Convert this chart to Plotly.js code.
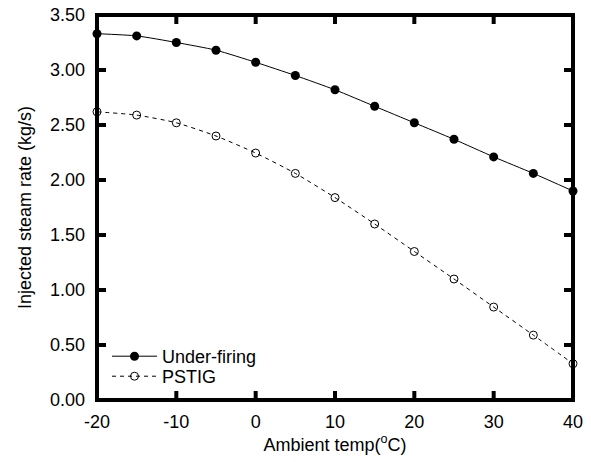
<!DOCTYPE html>
<html>
<head>
<meta charset="utf-8">
<script src="https://cdn.plot.ly/plotly-3.0.1.min.js"></script>
<style>body{margin:0;padding:0;background:#fff;}#chart{width:591px;height:462px;}</style>
</head>
<body>
<div id="chart"></div>
<script>
const ambientTemp = [-20, -15, -10, -5, 0, 5, 10, 15, 20, 25, 30, 35, 40];
const underFiring = [3.33, 3.31, 3.25, 3.18, 3.07, 2.95, 2.82, 2.67, 2.52, 2.37, 2.21, 2.06, 1.90];
const pstig = [2.62, 2.59, 2.52, 2.40, 2.245, 2.06, 1.84, 1.60, 1.35, 1.10, 0.845, 0.59, 0.33];
const seriesNames = ['Under-firing', 'PSTIG'];
const xTicks = [-20, -10, 0, 10, 20, 30, 40];
const yTicks = [0, 0.5, 1, 1.5, 2, 2.5, 3, 3.5];

const font = 'Arial, "Liberation Sans", sans-serif';
const ink = 'rgb(0,0,0)';
const W = 591, H = 462;
const M = {l: 97, r: 18, t: 15, b: 62};
const plotW = W - M.l - M.r, plotH = H - M.t - M.b;
const tickPx = 9;

const traces = [
  {x: ambientTemp, y: underFiring, name: seriesNames[0], type: 'scatter', mode: 'lines+markers',
   legend: 'legend',
   line: {color: ink, width: 1, shape: 'spline', smoothing: 0.6},
   marker: {symbol: 'circle', size: 9, color: ink}, cliponaxis: false},
  {x: ambientTemp, y: pstig, name: seriesNames[1], type: 'scatter', mode: 'lines+markers',
   legend: 'legend2',
   line: {color: ink, width: 1, dash: '4px,4px', shape: 'spline', smoothing: 0.6},
   marker: {symbol: 'circle-open', size: 8, color: ink, line: {width: 1, color: ink}}, cliponaxis: false}
];

// frame and inside ticks (axis decoration), built from the tick arrays
const shapes = [{type: 'rect', xref: 'paper', yref: 'paper', x0: 0, x1: 1, y0: 0, y1: 1,
                 line: {color: ink, width: 4}, layer: 'above'}];
const tx = tickPx / plotH, ty = tickPx / plotW;
xTicks.forEach(v => {
  shapes.push({type: 'line', xref: 'x', yref: 'paper', x0: v, x1: v, y0: 0, y1: tx, line: {color: ink, width: 4}, layer: 'above'});
  shapes.push({type: 'line', xref: 'x', yref: 'paper', x0: v, x1: v, y0: 1 - tx, y1: 1, line: {color: ink, width: 4}, layer: 'above'});
});
yTicks.forEach(v => {
  shapes.push({type: 'line', xref: 'paper', yref: 'y', x0: 0, x1: ty, y0: v, y1: v, line: {color: ink, width: 4}, layer: 'above'});
  shapes.push({type: 'line', xref: 'paper', yref: 'y', x0: 1 - ty, x1: 1, y0: v, y1: v, line: {color: ink, width: 4}, layer: 'above'});
});

const axisCommon = {ticks: '', showline: false, showgrid: false, zeroline: false,
  tickfont: {family: font, size: 18, color: ink}};
const legendCommon = {xanchor: 'left', yanchor: 'middle', bgcolor: 'rgba(0,0,0,0)',
  font: {family: font, size: 18, color: ink}, itemwidth: 45, borderwidth: 0};
const layout = {
  width: W, height: H,
  margin: M,
  paper_bgcolor: '#fff', plot_bgcolor: '#fff',
  font: {family: font, size: 18, color: ink},
  showlegend: true,
  legend: Object.assign({}, legendCommon, {x: 0.021, y: 0.113}),
  legend2: Object.assign({}, legendCommon, {x: 0.021, y: 0.061}),
  shapes: shapes,
  xaxis: Object.assign({}, axisCommon, {
          range: [-20, 40], tickmode: 'array', tickvals: xTicks, ticktext: xTicks.map(String),
          ticklabelstandoff: 9,
          title: {text: 'Ambient temp(<sup>o</sup>C)', font: {family: font, size: 18, color: ink}, standoff: 5}}),
  yaxis: Object.assign({}, axisCommon, {
          range: [0, 3.5], tickmode: 'array', tickvals: yTicks, tickformat: '.2f',
          ticklabelstandoff: 11,
          title: {text: 'Injected steam rate (kg/s)', font: {family: font, size: 18, color: ink}, standoff: 13}})
};
Plotly.newPlot('chart', traces, layout, {displayModeBar: false});
</script>
</body>
</html>
